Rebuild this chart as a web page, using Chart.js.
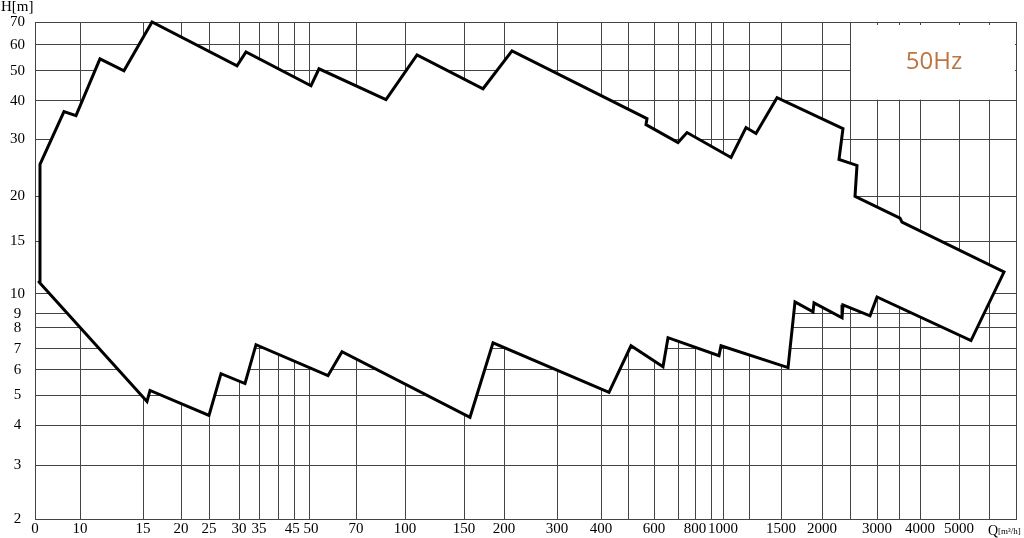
<!DOCTYPE html>
<html>
<head>
<meta charset="utf-8">
<title>Pump range 50Hz</title>
<script src="https://cdn.jsdelivr.net/npm/chart.js@4.4.1/dist/chart.umd.min.js"></script>
<style>
  html, body { margin: 0; padding: 0; background: #fff; }
</style>
</head>
<body>
<canvas id="rangeChart" width="1024" height="538"></canvas>
<script>
// Q axis grid lines [m3/h] and their labels
const qTicks = [0, 10, 15, 20, 25, 30, 35, 40, 45, 50, 70, 100, 150, 200, 300, 400, 500, 600, 700, 800, 900,
    1000, 1200, 1500, 2000, 2500, 3000, 3500, 4000, 5000, 6000, 7000];
const qTickLabels = ['0', '10', '15', '20', '25', '30', '35', '', '45 ', ' 50', '70', '100', '150', '200', '300', '400', '', '600', '', '800', '',
    '1000', '', '1500', '2000', '', '3000', '', '4000', '5000', '', ''];

// H axis grid lines [m]
const hTicks = [2, 3, 4, 5, 6, 7, 8, 9, 10, 15, 20, 30, 40, 50, 60, 70];

// Upper edge of the range, left to right
const upperQ = [0.89, 1.11, 6.44, 9.11, 11.37, 13.27, 16.06, 29.64, 31.66, 50.72, 53.71, 87.08, 108.6, 172.0, 212.6,
    571.3, 567.3, 700, 751.3, 1058, 1175, 1260, 1459, 2364, 2290, 2621, 2586, 3522, 3567, 6536];
const upperH = [10.96, 25.11, 36.88, 35.81, 54.39, 50, 70, 51.78, 57.13, 44.72, 50.71, 40.3, 55.94, 43.73, 57.53,
    35.03, 33.51, 29.37, 31.59, 26.39, 32.78, 31.36, 40.9, 32.54, 26.02, 24.93, 20, 17.38, 16.94, 11.83];

// Lower edge of the range, left to right
const lowerQ = [0.89, 15.46, 15.82, 25, 26.89, 31.42, 34.2, 57.28, 63.32, 156.6, 184.8, 427.3, 510.6, 635.7, 656.5,
    965.5, 982.6, 1576, 1655, 1878, 1891, 2346, 2364, 2862, 3000, 5378, 6536];
const lowerH = [10.96, 4.78, 5.18, 4.31, 5.83, 5.44, 7.18, 5.75, 6.85, 4.25, 7.27, 5.11, 7.13, 6.13, 7.51,
    6.65, 7.13, 6.09, 9.59, 9.1, 9.54, 8.7, 9.44, 8.85, 9.84, 7.37, 11.83];

// Frequency note box (from Q, from H, up to the corner)
const noteText = '50Hz';
const noteQ = 2500;
const noteH = 40;

// The printed grid is not evenly logarithmic: spacing of each grid line from the axis origin
const qPaper = [0, 45, 108, 146, 174, 204, 224, 243, 259, 274, 321, 370, 429, 469, 522, 566, 593, 619, 643, 660, 676,
    688, 714, 746, 787, 815, 842, 864, 885, 924, 954, 981];
const hPaper = [0, 54, 94, 124, 150, 171, 192, 206, 226, 279, 324, 381, 420, 450, 476, 499];

const paperAxes = {
    x: { stops: qTicks, marks: qPaper.map(p => p / qPaper[qPaper.length - 1]) },
    y: { stops: hTicks, marks: hPaper.map(p => p / hPaper[hPaper.length - 1]) }
};

// Scale that follows the printed paper: log steps between grid lines (linear from 0)
class PaperScale extends Chart.Scale {
    static id = 'paper';
    static defaults = {};

    determineDataLimits() {
        const { stops } = paperAxes[this.id];
        this.min = stops[0];
        this.max = stops[stops.length - 1];
    }

    buildTicks() {
        return paperAxes[this.id].stops.map(v => ({ value: v }));
    }

    getLabelForValue(value) {
        return String(value);
    }

    getPixelForValue(value) {
        const { stops, marks } = paperAxes[this.id];
        let i = 0;
        while (i < stops.length - 2 && value > stops[i + 1]) i++;
        const a = stops[i], b = stops[i + 1];
        const t = a <= 0 ? (value - a) / (b - a) : Math.log(value / a) / Math.log(b / a);
        return this.getPixelForDecimal(marks[i] + t * (marks[i + 1] - marks[i]));
    }

    getValueForPixel(pixel) {
        const { stops, marks } = paperAxes[this.id];
        const d = this.getDecimalForPixel(pixel);
        let i = 0;
        while (i < marks.length - 2 && d > marks[i + 1]) i++;
        const a = stops[i], b = stops[i + 1];
        const t = (d - marks[i]) / (marks[i + 1] - marks[i]);
        return a <= 0 ? a + t * (b - a) : a * Math.pow(b / a, t);
    }
}
Chart.register(PaperScale);

// Closed outline: upper edge forward, lower edge back
const upperPts = upperQ.map((q, i) => ({ x: q, y: upperH[i] }));
const lowerPts = lowerQ.map((q, i) => ({ x: q, y: lowerH[i] })).reverse().slice(1);
const outline = upperPts.concat(lowerPts);

Chart.defaults.font.family = '"Liberation Serif", "Times New Roman", serif';
Chart.defaults.font.size = 15;
Chart.defaults.color = '#000';

const gridColor = '#444';

// White note box with "50Hz" and the axis names
const chartNotes = {
    id: 'chartNotes',
    beforeDatasetsDraw(chart) {
        const { ctx, chartArea, scales } = chart;
        const x0 = scales.x.getPixelForValue(noteQ);
        const y1 = scales.y.getPixelForValue(noteH);
        ctx.save();
        ctx.fillStyle = '#fff';
        ctx.fillRect(x0 + 1, chartArea.top + 3, chartArea.right - x0 - 2, y1 - chartArea.top - 4);
        ctx.fillStyle = '#bd7440';
        ctx.font = '24px "Open Sans", sans-serif';
        ctx.textAlign = 'center';
        ctx.textBaseline = 'middle';
        ctx.fillText(noteText, (x0 + chartArea.right) / 2 + 1, (chartArea.top + y1) / 2 + 1);
        ctx.restore();
    },
    afterDraw(chart) {
        const { ctx } = chart;
        ctx.save();
        ctx.fillStyle = '#000';
        ctx.textBaseline = 'alphabetic';
        ctx.textAlign = 'left';
        ctx.font = '15px "Liberation Serif", serif';
        ctx.fillText('H[m]', 1, 11);
        // Q[m³/h] at the bottom right corner
        ctx.font = '14px "Liberation Serif", serif';
        ctx.fillText('Q', 988, 535);
        const qw = ctx.measureText('Q').width;
        ctx.font = '9px "Liberation Serif", serif';
        ctx.fillText('[m³/h]', 988 + qw, 534);
        ctx.restore();
    }
};

const ctx = document.getElementById('rangeChart').getContext('2d');
const rangeChart = new Chart(ctx, {
    type: 'line',
    data: {
        datasets: [{
            label: 'Range',
            data: outline,
            borderColor: '#000',
            borderWidth: 3,
            borderJoinStyle: 'miter',
            borderCapStyle: 'round',
            backgroundColor: '#fff',
            fill: 'shape',
            pointRadius: 0,
            tension: 0,
            clip: false
        }]
    },
    options: {
        responsive: false,
        animation: false,
        layout: {
            padding: { top: 22, right: 8, left: 0, bottom: 0 }
        },
        plugins: {
            legend: { display: false },
            tooltip: { enabled: false }
        },
        scales: {
            x: {
                type: 'paper',
                position: 'bottom',
                afterFit: (scale) => {
                    scale.height = 17;
                },
                ticks: {
                    autoSkip: false,
                    maxRotation: 0,
                    minRotation: 0,
                    padding: 1,
                    callback: (value, index) => qTickLabels[index]
                },
                grid: {
                    color: gridColor,
                    lineWidth: 1,
                    drawTicks: false
                },
                border: { color: gridColor }
            },
            y: {
                type: 'paper',
                position: 'left',
                afterFit: (scale) => {
                    scale.width = 35;
                },
                ticks: {
                    autoSkip: false,
                    crossAlign: 'center',
                    padding: 10,
                    callback: (value) => String(value)
                },
                grid: {
                    color: gridColor,
                    lineWidth: 1,
                    drawTicks: false
                },
                border: { color: gridColor }
            }
        }
    },
    plugins: [chartNotes]
});
</script>
</body>
</html>
